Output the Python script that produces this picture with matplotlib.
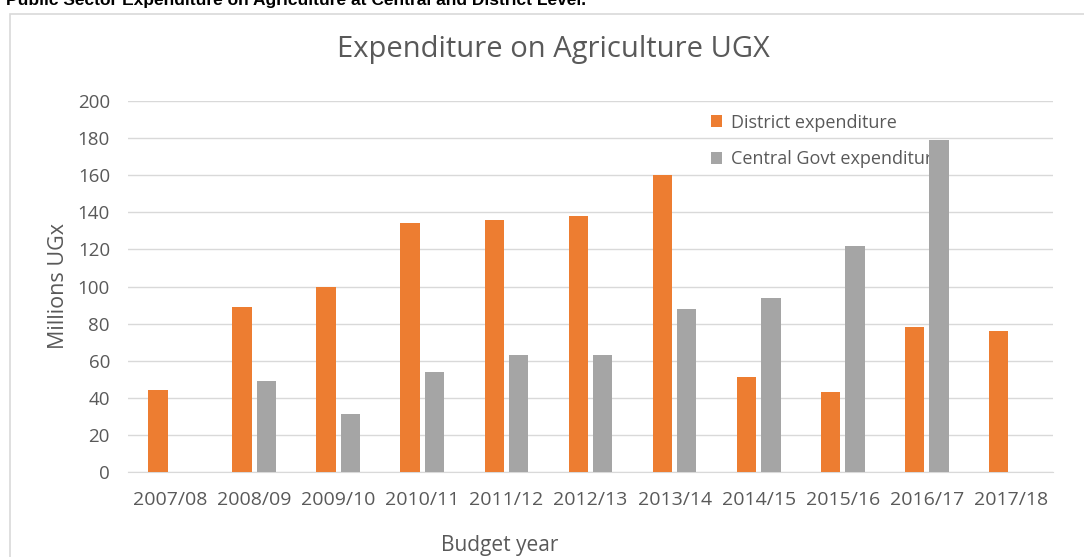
import matplotlib
matplotlib.use("Agg")
import matplotlib.pyplot as plt
import numpy as np
from matplotlib.patches import Rectangle

years = ["2007/08", "2008/09", "2009/10", "2010/11", "2011/12", "2012/13",
         "2013/14", "2014/15", "2015/16", "2016/17", "2017/18"]
district = [44, 89, 100, 134, 136, 138, 160, 51, 43, 78, 76]
central = [0, 49, 31, 54, 63, 63, 88, 94, 122, 179, 0]
yticks = [0, 20, 40, 60, 80, 100, 120, 140, 160, 180, 200]

ORANGE = "#ED7D31"
GRAY = "#A5A5A5"
TXT = "#595959"

plt.rcParams['font.family'] = ['Open Sans', 'DejaVu Sans']

W, H = 1084, 557
fig = plt.figure(figsize=(W / 100, H / 100), dpi=100)

# outer chart border
fig.patches.append(Rectangle((10 / W, -0.05), 1.2, 1 - 14 / H + 0.05,
                             transform=fig.transFigure, fill=False,
                             edgecolor="#D9D9D9", linewidth=1.2))

# cut-off document caption at the top
fig.text(6 / W, 1 - 5 / H,
         "Public Sector Expenditure on Agriculture at Central and District Level.",
         fontsize=12.5, fontweight="bold", family="Liberation Sans",
         va="baseline", ha="left", color="black")

ax = fig.add_axes([128 / W, (H - 472) / H, (1053 - 128) / W, (472 - 101) / H])
x = np.arange(len(years))
bw = 0.23
off = 0.145
ax.bar(x - off, district, bw, color=ORANGE, label="District expenditure", zorder=3)
ax.bar(x + off, central, bw, color=GRAY, label="Central Govt expenditure", zorder=3)

ax.set_xlim(-0.5, len(years) - 0.5)
ax.set_ylim(0, 200)
ax.set_yticks(yticks)
ax.set_xticks(x)
ax.set_xticklabels(years)
ax.yaxis.grid(True, color="#D9D9D9", linewidth=1, zorder=0)
ax.set_axisbelow(True)
for s in ["top", "right", "left"]:
    ax.spines[s].set_visible(False)
ax.spines["bottom"].set_color("#D9D9D9")
ax.tick_params(axis="both", length=0, labelsize=14, colors=TXT)
ax.tick_params(axis="x", pad=14)
ax.tick_params(axis="y", pad=13, labelsize=13.5)

fig.text(59 / W, 1 - 286 / H, "Millions UGx", fontsize=15.5, color=TXT,
         ha="center", va="center", rotation=90)
fig.text(500 / W, 1 - 546 / H, "Budget year", fontsize=15, color=TXT,
         ha="center", va="center")
fig.text(553 / W, 1 - 50 / H, "Expenditure on Agriculture UGX", fontsize=21,
         color=TXT, ha="center", va="center")

leg = ax.legend(loc="upper left", bbox_to_anchor=((695 - 128) / (1053 - 128), 1.01),
                frameon=False, fontsize=13, labelcolor=TXT, handlelength=0.6,
                handleheight=0.6, handletextpad=0.5, labelspacing=1.05)
leg.set_zorder(2)

fig.savefig("out.png", dpi=100)
